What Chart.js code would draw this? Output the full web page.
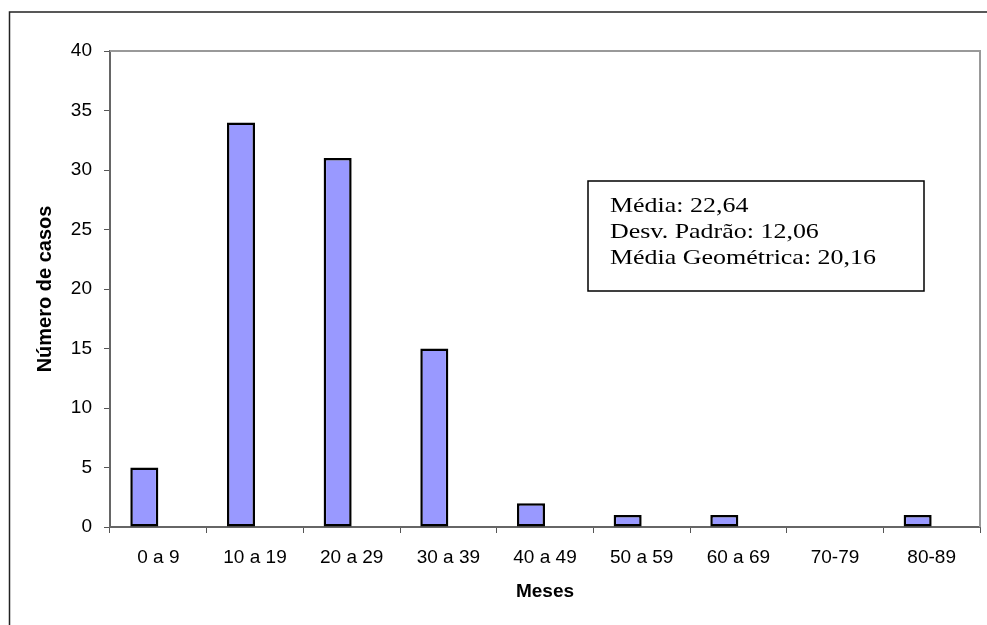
<!DOCTYPE html>
<html>
<head>
<meta charset="utf-8">
<script src="https://cdn.jsdelivr.net/npm/chart.js@4"></script>
<style>
  html, body { margin: 0; padding: 0; background: #fff; }
  canvas { display: block; }
</style>
</head>
<body>
<canvas id="histChart" width="987" height="625"></canvas>
<script>
const categories = ['0 a 9', '10 a 19', '20 a 29', '30 a 39', '40 a 49', '50 a 59', '60 a 69', '70-79', '80-89'];
const casos = [5, 34, 31, 15, 2, 1, 1, 0, 1];
const emptySeries = [null, null, null, null, null, null, null, null, null];
const statsLines = ['Média: 22,64', 'Desv. Padrão: 12,06', 'Média Geométrica: 20,16'];

// frame, plot border and the stats box
const decorPlugin = {
    id: 'decor',
    afterDraw(chart) {
        const ctx = chart.ctx;
        const a = chart.chartArea;
        ctx.save();
        // outer frame (only top/left visible in the picture)
        ctx.strokeStyle = '#222';
        ctx.lineWidth = 1.5;
        ctx.beginPath();
        ctx.moveTo(9.5, 630);
        ctx.lineTo(9.5, 12);
        ctx.lineTo(990, 12);
        ctx.stroke();
        // plot area border top/right
        ctx.strokeStyle = '#999';
        ctx.lineWidth = 2;
        ctx.beginPath();
        ctx.moveTo(a.left, a.top);
        ctx.lineTo(a.right, a.top);
        ctx.lineTo(a.right, a.bottom);
        ctx.stroke();
        // stats box
        ctx.fillStyle = '#fff';
        ctx.fillRect(588, 181, 336, 110);
        ctx.strokeStyle = '#000';
        ctx.lineWidth = 1.5;
        ctx.strokeRect(588, 181, 336, 110);
        ctx.fillStyle = '#000';
        ctx.font = '22px "Liberation Serif", "Times New Roman", serif';
        ctx.textBaseline = 'middle';
        const ys = [206, 232, 258];
        statsLines.forEach((t, i) => {
            ctx.save();
            ctx.translate(610, ys[i]);
            ctx.scale(1.18, 1);
            ctx.fillText(t, 0, 0);
            ctx.restore();
        });
        ctx.restore();
    }
};

new Chart(document.getElementById('histChart'), {
    type: 'bar',
    data: {
        labels: categories,
        datasets: [
            {
                label: 'Casos',
                data: casos,
                backgroundColor: '#9999FF',
                borderColor: '#000',
                borderWidth: 2.5,
                borderSkipped: false,
                categoryPercentage: 0.58,
                barPercentage: 1.0
            },
            {
                label: '',
                data: emptySeries,
                backgroundColor: '#993366',
                categoryPercentage: 0.58,
                barPercentage: 1.0
            }
        ]
    },
    options: {
        responsive: false,
        animation: false,
        devicePixelRatio: 1,
        layout: { padding: { left: 0, right: 7, top: 51, bottom: 0 } },
        plugins: {
            legend: { display: false },
            tooltip: { enabled: false }
        },
        scales: {
            x: {
                afterFit: (s) => { s.height = 98; },
                grid: {
                    display: true,
                    drawOnChartArea: false,
                    offset: true,
                    tickLength: 6,
                    color: '#555',
                    lineWidth: 1
                },
                border: { color: '#666', width: 2 },
                ticks: {
                    color: '#000',
                    font: { family: 'Arial, "Liberation Sans", sans-serif', size: 19 },
                    padding: 13,
                    maxRotation: 0,
                    autoSkip: false
                },
                title: {
                    display: true,
                    text: 'Meses',
                    color: '#000',
                    font: { family: 'Arial, "Liberation Sans", sans-serif', size: 19, weight: 'bold' },
                    padding: { top: 0, bottom: 22 }
                }
            },
            y: {
                min: 0,
                max: 40,
                afterFit: (s) => { s.width = 110; },
                grid: {
                    display: true,
                    drawOnChartArea: false,
                    tickLength: 6,
                    color: '#555',
                    lineWidth: 1
                },
                border: { color: '#666', width: 2 },
                ticks: {
                    stepSize: 5,
                    color: '#000',
                    font: { family: 'Arial, "Liberation Sans", sans-serif', size: 19 },
                    padding: 12
                },
                title: {
                    display: true,
                    text: 'Número de casos',
                    color: '#000',
                    font: { family: 'Arial, "Liberation Sans", sans-serif', size: 20, weight: 'bold' },
                    padding: { top: 33, bottom: 0 }
                }
            }
        }
    },
    plugins: [decorPlugin]
});
</script>
</body>
</html>
